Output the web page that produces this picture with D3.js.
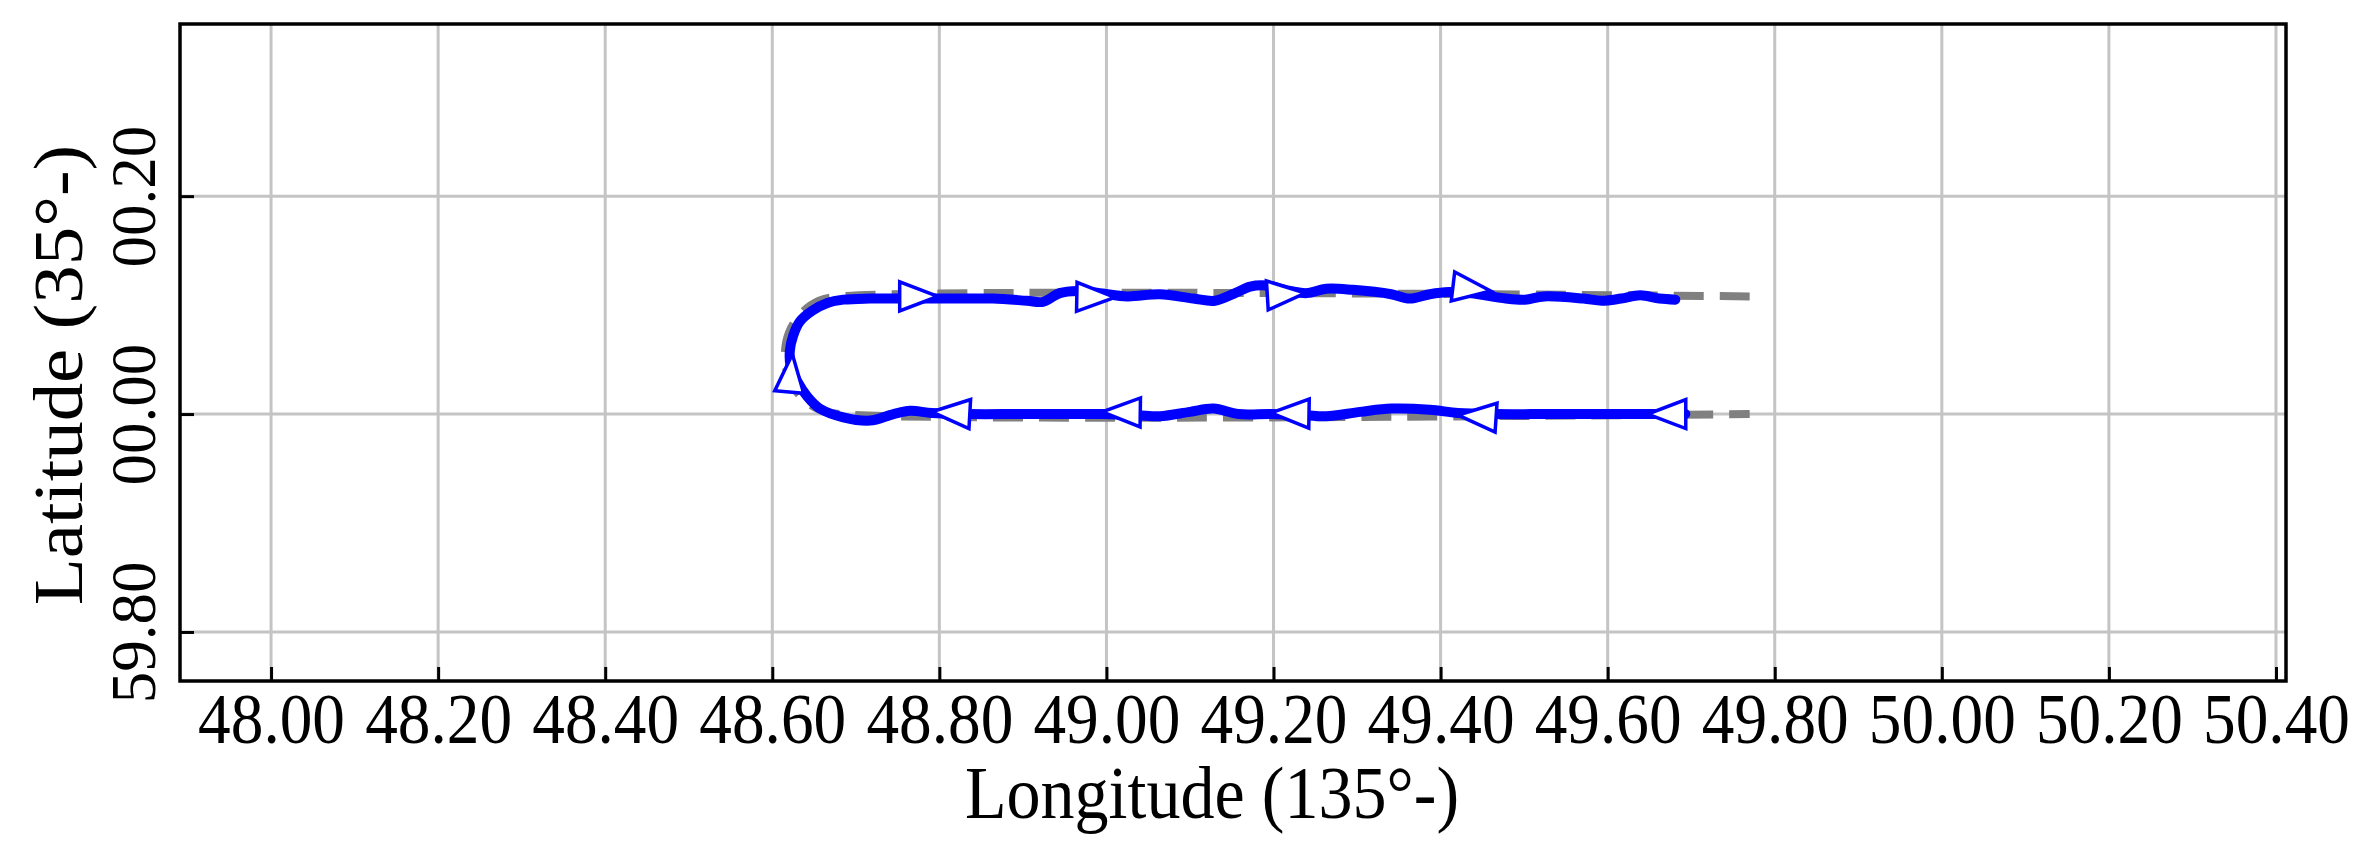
<!DOCTYPE html>
<html>
<head>
<meta charset="utf-8">
<script src="https://cdn.jsdelivr.net/npm/d3@7"></script>
<style>
body { margin: 0; background: #fff; }
text { font-family: "Liberation Serif", "Times New Roman", serif; fill: #000; }
</style>
</head>
<body>
<script>
let width = 2363;
let height = 844;
let margin = {top: 24, right: 77, bottom: 163, left: 180};

let xTicks = [48.00, 48.20, 48.40, 48.60, 48.80, 49.00, 49.20, 49.40, 49.60, 49.80, 50.00, 50.20, 50.40];
let yTicks = [-0.2, 0, 0.2];
let yTickLabels = ['59.80', '00.00', '00.20'];

// planned route (minutes past 135° E / 35° N)
let planLon = [49.770, 48.681, 48.656, 48.634, 48.620, 48.615, 48.620, 48.634, 48.656, 48.681, 49.770];
let planLat = [0.108, 0.108, 0.104, 0.092, 0.075, 0.054, 0.033, 0.016, 0.004, 0.000, 0.000];

// measured track, starting bottom right
let trackLon = [
    49.693, 49.648, 49.591, 49.531, 49.465, 49.421, 49.387, 49.341, 49.304, 49.263,
    49.238, 49.197, 49.158, 49.128, 49.100, 49.064, 49.037, 48.995, 48.944, 48.897,
    48.834, 48.791, 48.765, 48.745, 48.717, 48.685, 48.657, 48.642, 48.630, 48.622,
    48.621, 48.625, 48.633, 48.648, 48.666, 48.685, 48.717, 48.757, 48.798, 48.825,
    48.864, 48.905, 48.924, 48.944, 48.965, 48.992, 49.025, 49.064, 49.104, 49.130,
    49.154, 49.172, 49.192, 49.220, 49.240, 49.263, 49.295, 49.341, 49.363, 49.387,
    49.410, 49.435, 49.478, 49.501, 49.524, 49.571, 49.593, 49.616, 49.639, 49.662,
    49.681
];
let trackLat = [
    0.000, 0.000, 0.000, 0.000, 0.000, 0.001, 0.004, 0.005, 0.002, -0.002,
    -0.001, 0.000, 0.000, 0.005, 0.002, -0.002, -0.001, 0.000, 0.000, 0.000,
    0.000, 0.001, 0.003, 0.000, -0.006, -0.003, 0.005, 0.016, 0.030, 0.044,
    0.058, 0.072, 0.085, 0.095, 0.102, 0.105, 0.106, 0.106, 0.106, 0.106,
    0.106, 0.104, 0.103, 0.111, 0.113, 0.111, 0.108, 0.110, 0.106, 0.104,
    0.111, 0.117, 0.118, 0.113, 0.111, 0.115, 0.114, 0.110, 0.106, 0.110,
    0.112, 0.111, 0.106, 0.105, 0.108, 0.106, 0.104, 0.106, 0.109, 0.106,
    0.105
];

// direction markers (tip positions)
let arrowLon = [49.648, 49.421, 49.197, 48.995, 48.791, 48.624, 48.798, 49.010, 49.238, 49.460];
let arrowLat = [0.000, -0.001, 0.001, 0.002, 0.002, 0.055, 0.108, 0.107, 0.111, 0.113];

let x = d3.scaleLinear()
.domain([47.891, 50.412])
.range([margin.left, width - margin.right]);

let y = d3.scaleLinear()
.domain([-0.245, 0.358])
.range([height - margin.bottom, margin.top]);

let svg = d3.select('body')
.append('svg')
.attr('width', width)
.attr('height', height);

let grid = svg.append('g')
.attr('stroke', '#c4c4c4')
.attr('stroke-width', 3);

grid.selectAll('.vx')
.data(xTicks)
.enter()
.append('line')
.attr('x1', d => x(d))
.attr('x2', d => x(d))
.attr('y1', margin.top)
.attr('y2', height - margin.bottom);

grid.selectAll('.hy')
.data(yTicks)
.enter()
.append('line')
.attr('y1', d => y(d))
.attr('y2', d => y(d))
.attr('x1', margin.left)
.attr('x2', width - margin.right);

let plan = planLon.map((d, i) => [d, planLat[i]]);
let track = trackLon.map((d, i) => [d, trackLat[i]]);

let line = d3.line()
.x(d => x(d[0]))
.y(d => y(d[1]))
.curve(d3.curveCatmullRom.alpha(0.5));

svg.append('path')
.datum(plan)
.attr('d', line)
.attr('fill', 'none')
.attr('stroke', '#808080')
.attr('stroke-width', 8)
.attr('stroke-dasharray', '30,16');

svg.append('path')
.datum(track)
.attr('d', line)
.attr('fill', 'none')
.attr('stroke', '#0000ff')
.attr('stroke-width', 10)
.attr('stroke-linejoin', 'round')
.attr('stroke-linecap', 'round');

function heading(lon, lat){
    let px = x(lon), py = y(lat);
    let best = 0, bestDist = Infinity;
    track.forEach(function(p, i){
        let dd = Math.hypot(x(p[0]) - px, y(p[1]) - py);
        if (dd < bestDist) { bestDist = dd; best = i; }
    });
    let a = track[Math.max(best - 1, 0)];
    let b = track[Math.min(best + 1, track.length - 1)];
    return Math.atan2(y(b[1]) - y(a[1]), x(b[0]) - x(a[0])) * 180 / Math.PI;
}

svg.append('g')
.selectAll('path')
.data(arrowLon.map((d, i) => [d, arrowLat[i]]))
.enter()
.append('path')
.attr('d', 'M0,0L-38,-14.5L-38,14.5Z')
.attr('transform', d => 'translate(' + x(d[0]) + ',' + y(d[1]) + ') rotate(' + heading(d[0], d[1]) + ')')
.attr('fill', '#fff')
.attr('stroke', '#0000ff')
.attr('stroke-width', 3.5)
.attr('stroke-linejoin', 'miter');

let xAxis = svg.append('g')
.attr('transform', 'translate(0,' + (height - margin.bottom) + ')')
.call(d3.axisBottom(x)
    .tickValues(xTicks)
    .tickFormat(d3.format('.2f'))
    .tickSizeInner(-14)
    .tickSizeOuter(0));

xAxis.select('.domain').remove();
xAxis.selectAll('line').attr('stroke', '#000').attr('stroke-width', 3);
xAxis.selectAll('text')
.attr('y', 62)
.attr('dy', null)
.attr('transform', 'scale(0.92,1)')
.attr('font-size', 71)
.attr('font-family', '"Liberation Serif", "Times New Roman", serif');

let yAxis = svg.append('g')
.attr('transform', 'translate(' + margin.left + ',0)')
.call(d3.axisLeft(y)
    .tickValues(yTicks)
    .tickFormat((d, i) => yTickLabels[i])
    .tickSizeInner(-14)
    .tickSizeOuter(0));

yAxis.select('.domain').remove();
yAxis.selectAll('line').attr('stroke', '#000').attr('stroke-width', 3);
yAxis.selectAll('text')
.attr('transform', 'rotate(-90)')
.attr('x', 0)
.attr('y', -25)
.attr('dy', null)
.attr('text-anchor', 'middle')
.attr('font-size', 63)
.attr('font-family', '"Liberation Serif", "Times New Roman", serif');

svg.append('rect')
.attr('x', margin.left)
.attr('y', margin.top)
.attr('width', width - margin.left - margin.right)
.attr('height', height - margin.top - margin.bottom)
.attr('fill', 'none')
.attr('stroke', '#000')
.attr('stroke-width', 3.5);

svg.append('text')
.attr('transform', 'translate(1212,818) scale(0.92,1)')
.attr('text-anchor', 'middle')
.attr('font-size', 74)
.text('Longitude (135°-)');

svg.append('text')
.attr('transform', 'translate(82,375) scale(0.92,1) rotate(-90)')
.attr('text-anchor', 'middle')
.attr('font-size', 77)
.text('Latitude (35°-)');
</script>
</body>
</html>
